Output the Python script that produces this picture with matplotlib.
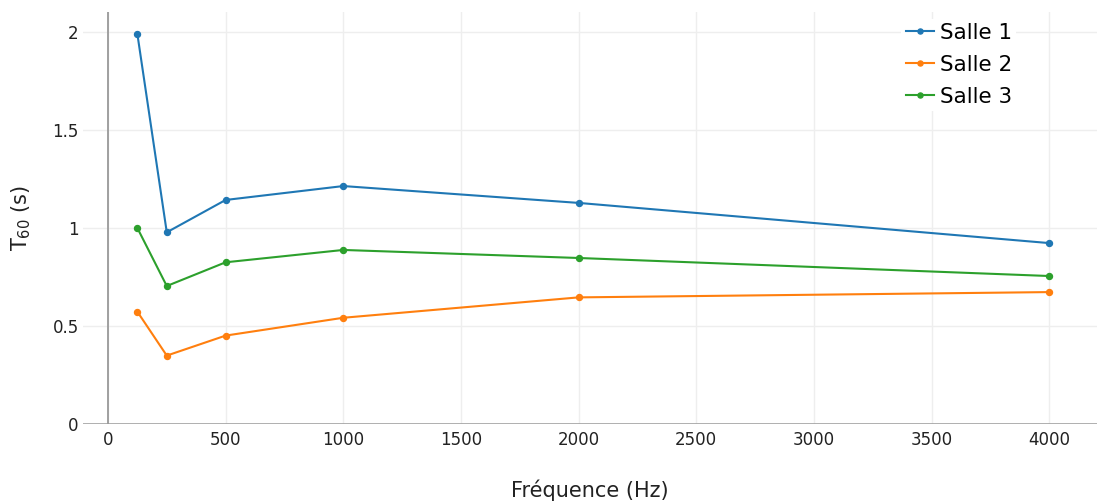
import matplotlib
matplotlib.use("Agg")
import matplotlib.pyplot as plt

# Octave-band centre frequencies (Hz) and reverberation times T60 (s)
frequencies = [125, 250, 500, 1000, 2000, 4000]
salle_1 = [1.99, 0.978, 1.143, 1.214, 1.128, 0.923]
salle_2 = [0.573, 0.349, 0.451, 0.542, 0.646, 0.673]
salle_3 = [1.0, 0.704, 0.825, 0.888, 0.847, 0.755]
series_names = ["Salle 1", "Salle 2", "Salle 3"]
x_ticks = [0, 500, 1000, 1500, 2000, 2500, 3000, 3500, 4000]
y_ticks = [0, 0.5, 1, 1.5, 2]
y_tick_labels = ["0", "0.5", "1", "1.5", "2"]

colors = ["#1f77b4", "#ff7f0e", "#2ca02c"]

plt.rcParams["font.family"] = ["DejaVu Sans"]

fig = plt.figure(figsize=(10.97, 5.04), dpi=100)
ax = fig.add_axes([83 / 1097, 80 / 504, 1 - 83 / 1097, 412 / 504])

for name, vals, c in zip(series_names, [salle_1, salle_2, salle_3], colors):
    ax.plot(frequencies, vals, color=c, lw=1.5, marker="o", ms=4.3,
            label=name, zorder=3)

ax.set_xlim(-106, 4203)
ax.set_ylim(0, 2.102)
ax.set_xticks(x_ticks)
ax.set_yticks(y_ticks)
ax.set_yticklabels(y_tick_labels)
ax.grid(True, color="#eeeeee", lw=1)
ax.set_axisbelow(True)
for s in ax.spines.values():
    s.set_visible(False)
ax.axvline(0, color="#999999", lw=1.3, zorder=2)
ax.axhline(0, color="#999999", lw=1.8, zorder=2)
ax.tick_params(length=0, labelsize=12, colors="#222222", pad=5)
ax.tick_params(axis="y", pad=3)

ax.set_xlabel("Fréquence (Hz)", fontsize=15, color="#222222", labelpad=22)
ax.set_ylabel(r"T$_{\mathregular{60}}$ (s)", fontsize=15, color="#222222",
              labelpad=14)

leg = ax.legend(loc="upper right", bbox_to_anchor=(0.931, 1.01), fontsize=15.5,
                frameon=True, framealpha=1, edgecolor="white",
                facecolor="white", handlelength=1.3, handletextpad=0.28,
                labelspacing=0.55, borderpad=0.2, markerscale=0.85)
leg.get_frame().set_linewidth(0)

fig.savefig("out.png", dpi=100, facecolor="white")
